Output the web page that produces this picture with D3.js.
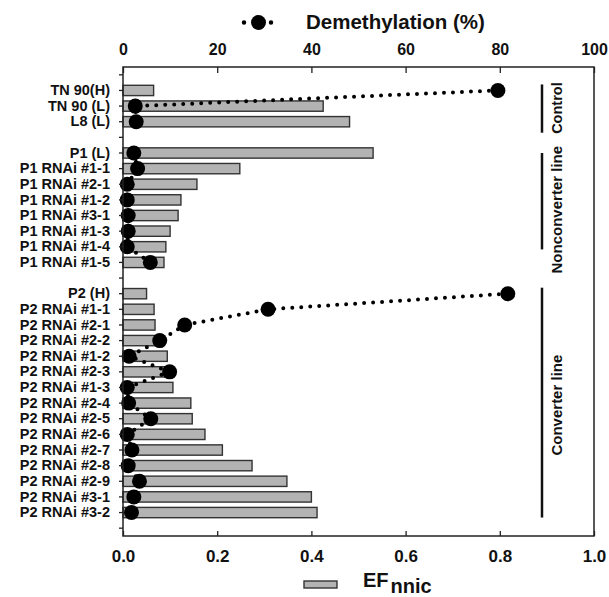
<!DOCTYPE html>
<html>
<head>
<meta charset="utf-8">
<script src="https://cdn.jsdelivr.net/npm/d3@7"></script>
<style>
  body { margin: 0; background: #fff; }
  text { font-family: "Liberation Sans", Arial, sans-serif; font-weight: bold; fill: #111; }
</style>
</head>
<body>
<div id="chart"></div>
<script>
var width = 609, height = 597;
var margin = {top: 67, right: 15, bottom: 61, left: 123};

// Data
var groups = ["Control", "Nonconverter line", "Converter line"];
var groupSizes = [3, 8, 15];
var categories = [
    "TN 90(H)", "TN 90 (L)", "L8 (L)",
    "P1 (L)", "P1 RNAi #1-1", "P1 RNAi #2-1", "P1 RNAi #1-2", "P1 RNAi #3-1",
    "P1 RNAi #1-3", "P1 RNAi #1-4", "P1 RNAi #1-5",
    "P2 (H)", "P2 RNAi #1-1", "P2 RNAi #2-1", "P2 RNAi #2-2", "P2 RNAi #1-2",
    "P2 RNAi #2-3", "P2 RNAi #1-3", "P2 RNAi #2-4", "P2 RNAi #2-5", "P2 RNAi #2-6",
    "P2 RNAi #2-7", "P2 RNAi #2-8", "P2 RNAi #2-9", "P2 RNAi #3-1", "P2 RNAi #3-2"
];
var efnnic = [
    0.065, 0.425, 0.481,
    0.531, 0.248, 0.157, 0.123, 0.117, 0.100, 0.091, 0.087,
    0.050, 0.066, 0.068, 0.080, 0.094, 0.098, 0.106, 0.144, 0.147, 0.174,
    0.211, 0.274, 0.348, 0.400, 0.412
];
var demethylation = [
    79.6, 2.6, 2.8,
    2.3, 3.1, 0.9, 0.9, 1.1, 1.1, 0.9, 5.8,
    81.7, 30.8, 13.1, 7.8, 1.3, 9.9, 0.9, 1.2, 5.9, 0.9,
    1.9, 1.1, 3.5, 2.3, 1.8
];
var efTicks = [0, 0.2, 0.4, 0.6, 0.8, 1.0];
var demTicks = [0, 20, 40, 60, 80, 100];

// rows: one empty slot before each group and one after the last
var rows = [];
var k = 0;
groupSizes.forEach(function(n, g) {
    rows.push({label: "", group: -1});
    for (var i = 0; i < n; i++) {
        rows.push({label: categories[k], ef: efnnic[k], dem: demethylation[k], group: g});
        k++;
    }
});
rows.push({label: "", group: -1});
rows.forEach(function(r, i) { r.slot = i; });
var data = rows.filter(function(r) { return r.group >= 0; });

var x0 = margin.left, x1 = width - margin.right;
var y0 = margin.top, y1 = height - margin.bottom;

var xScale = d3.scaleLinear().domain([0, 1]).range([x0, x1]);
var xDem = d3.scaleLinear().domain([0, 100]).range([x0, x1]);
var yScale = d3.scaleBand()
    .domain(rows.map(function(d) { return d.slot; }))
    .range([y0, y1])
    .paddingInner(0.34)
    .paddingOuter(0.17);
function yc(slot) { return yScale(slot) + yScale.bandwidth() / 2; }

var svg = d3.select("#chart").append("svg")
    .attr("width", width)
    .attr("height", height);

// bars
svg.selectAll("rect.bar")
    .data(data)
    .enter()
    .append("rect")
    .attr("class", "bar")
    .attr("x", xScale(0))
    .attr("y", function(d) { return yScale(d.slot); })
    .attr("width", function(d) { return xScale(d.ef) - xScale(0); })
    .attr("height", yScale.bandwidth())
    .attr("fill", "#b3b3b3")
    .attr("stroke", "#333")
    .attr("stroke-width", 1.4);

// dotted lines, one per group
var line = d3.line()
    .x(function(d) { return xDem(d.dem); })
    .y(function(d) { return yc(d.slot); });
groups.forEach(function(g, gi) {
    svg.append("path")
        .datum(data.filter(function(d) { return d.group === gi; }))
        .attr("d", line)
        .attr("fill", "none")
        .attr("stroke", "#000")
        .attr("stroke-width", 4)
        .attr("stroke-linecap", "round")
        .attr("stroke-dasharray", "0,9");
});
svg.selectAll("circle.dot")
    .data(data)
    .enter()
    .append("circle")
    .attr("class", "dot")
    .attr("cx", function(d) { return xDem(d.dem); })
    .attr("cy", function(d) { return yc(d.slot); })
    .attr("r", 7.5)
    .attr("fill", "#000");

// frame
svg.append("rect")
    .attr("x", x0).attr("y", y0)
    .attr("width", x1 - x0).attr("height", y1 - y0)
    .attr("fill", "none")
    .attr("stroke", "#222")
    .attr("stroke-width", 1.5);

// axes
var topAxis = svg.append("g")
    .attr("transform", "translate(0," + y0 + ")")
    .call(d3.axisTop(xDem).tickValues(demTicks).tickSizeInner(-6).tickSizeOuter(0).tickPadding(12));
var bottomAxis = svg.append("g")
    .attr("transform", "translate(0," + y1 + ")")
    .call(d3.axisBottom(xScale).tickValues(efTicks).tickFormat(d3.format(".1f"))
        .tickSizeInner(-5).tickSizeOuter(0).tickPadding(14));
var leftAxis = svg.append("g")
    .attr("transform", "translate(" + x0 + ",0)")
    .call(d3.axisLeft(yScale).tickFormat(function(s) { return rows[s].label; })
        .tickSize(4).tickPadding(9));

[topAxis, bottomAxis, leftAxis].forEach(function(a) {
    a.select(".domain").remove();
    a.selectAll("line").attr("stroke", "#222").attr("stroke-width", 1.3);
    a.selectAll("text").attr("font-family", null).attr("fill", "#111");
});
topAxis.selectAll("text").style("font-size", "16px");
bottomAxis.selectAll("text").style("font-size", "17px");
leftAxis.selectAll("text").style("font-size", "14.5px");

// group brackets (hand drawn lengths in the original)
var bracketTrim = [[-6, 11], [0, -13], [-6, 5]];
groups.forEach(function(g, gi) {
    var gd = data.filter(function(d) { return d.group === gi; });
    var top = yc(gd[0].slot) + bracketTrim[gi][0];
    var bot = yc(gd[gd.length - 1].slot) + bracketTrim[gi][1];
    var mid = (yc(gd[0].slot) + yc(gd[gd.length - 1].slot)) / 2 + 2;
    svg.append("line")
        .attr("x1", 542).attr("x2", 542)
        .attr("y1", top).attr("y2", bot)
        .attr("stroke", "#111")
        .attr("stroke-width", 2.5);
    svg.append("text")
        .attr("transform", "translate(562," + mid + ") rotate(-90)")
        .attr("text-anchor", "middle")
        .style("font-size", gi === 0 ? "14.5px" : "15px")
        .text(g);
});

// legend top
var lg = svg.append("g");
lg.append("line")
    .attr("x1", 244).attr("x2", 272).attr("y1", 22.5).attr("y2", 22.5)
    .attr("stroke", "#000").attr("stroke-width", 4.5)
    .attr("stroke-linecap", "round").attr("stroke-dasharray", "0,13.5");
lg.append("circle").attr("cx", 258.5).attr("cy", 22.5).attr("r", 7.5).attr("fill", "#000");
lg.append("text")
    .attr("x", 306).attr("y", 29)
    .style("font-size", "20.5px")
    .text("Demethylation (%)");

// legend bottom
var lb = svg.append("g");
lb.append("rect")
    .attr("x", 304).attr("y", 581).attr("width", 33).attr("height", 7)
    .attr("fill", "#b3b3b3").attr("stroke", "#333").attr("stroke-width", 1.4);
var ef = lb.append("text")
    .attr("x", 363).attr("y", 587)
    .style("font-size", "20px");
ef.append("tspan").text("EF");
ef.append("tspan").attr("dy", 6).attr("dx", 2).text("nnic");
</script>
</body>
</html>
